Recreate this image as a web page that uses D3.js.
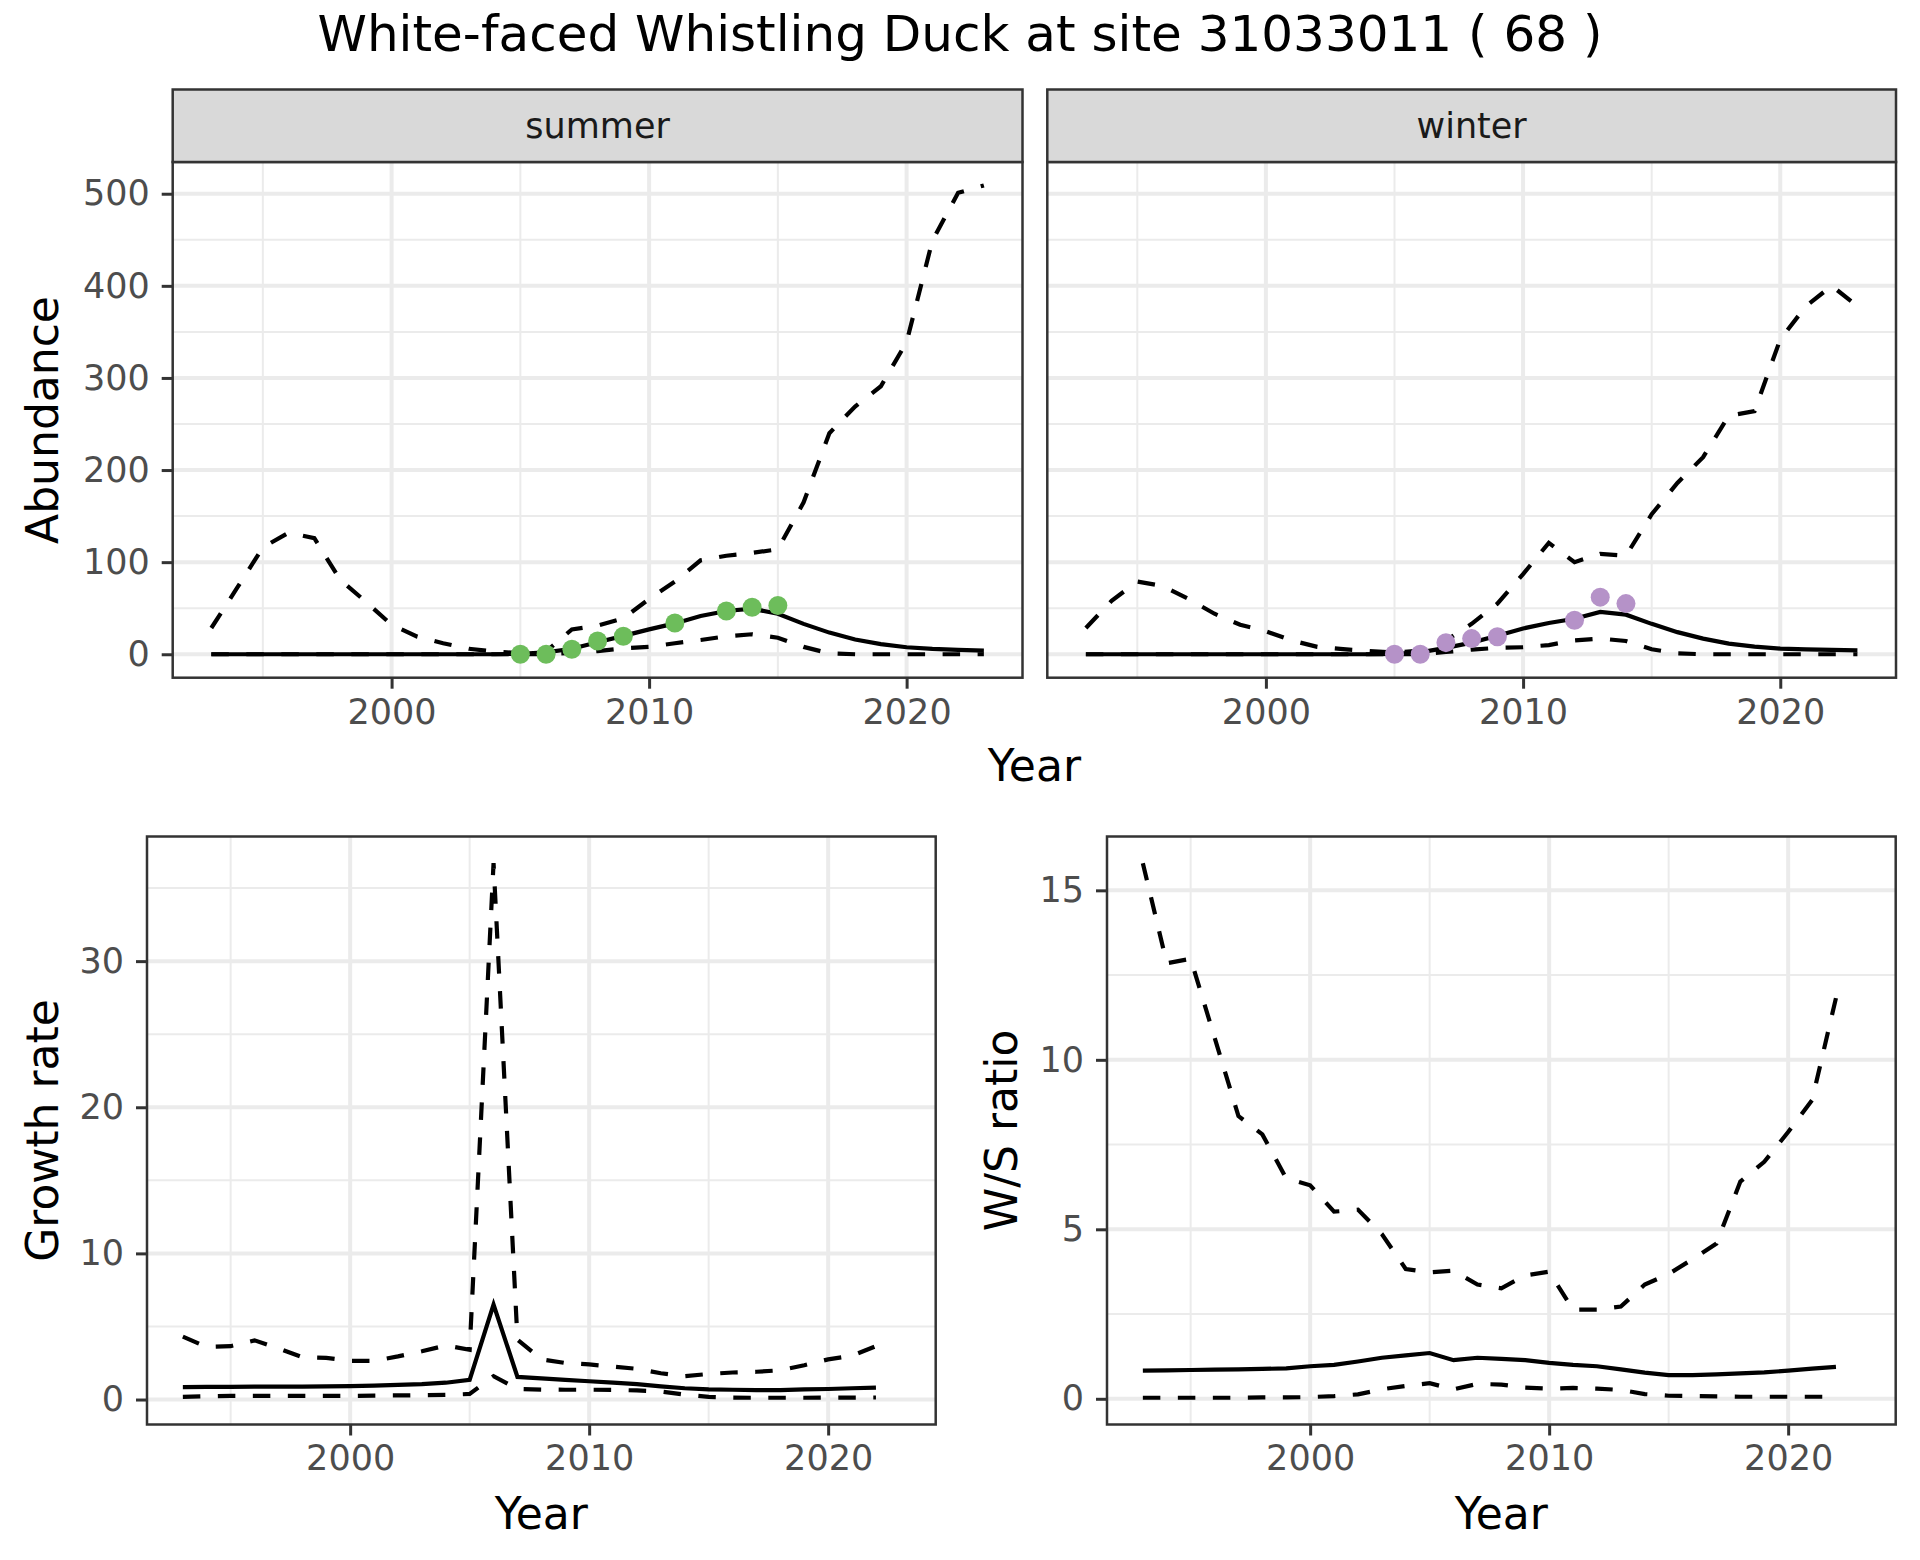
<!DOCTYPE html>
<html>
<head>
<meta charset="utf-8">
<script src="https://cdn.jsdelivr.net/npm/d3@7"></script>
<style>
  body { margin: 0; background: #fff; }
  text { font-family: "DejaVu Sans", sans-serif; }
</style>
</head>
<body>
<div id="chart"></div>
<script>

// ---- DATA -----

var abYears = d3.range(1993, 2024);
var rateYears = d3.range(1993, 2023);

// summer abundance: upper, mean, lower
var summerHi = [28.5, 72, 116, 132, 126, 81, 57, 32, 19, 12, 6, 3, 1, 3, 27, 31, 39, 60, 79, 102, 107, 110, 114, 165, 240, 269, 291, 339, 449, 501, 509];
var summerMu = [0, 0, 0, 0, 0, 0, 0, 0, 0, 0, 0, 0, 0.5, 2, 6, 13, 20, 27, 33.5, 41.5, 47, 49.5, 44, 33, 23.5, 16, 11, 7.6, 5.8, 4.7, 4];
var summerLo = [0, 0, 0, 0, 0, 0, 0, 0, 0, 0, 0, 0, 0, 0, 1.5, 3.5, 6.5, 8, 12, 15.5, 19.5, 21.7, 18, 8, 1, 0, 0, 0, 0, 0, 0];
var summerObsYear = [2005, 2006, 2007, 2008, 2009, 2011, 2013, 2014, 2015];
var summerObs = [0, 0, 5.4, 14.4, 19.5, 34, 47, 51, 53];

// winter abundance: upper, mean, lower
var winterHi = [28.5, 58, 79, 74, 60, 44, 32, 25, 15, 8, 5.5, 3.6, 1.8, 4, 15, 33, 55, 87, 121, 100, 109, 107, 152, 186, 214, 259, 264, 342, 378, 400, 378];
var winterMu = [0, 0, 0, 0, 0, 0, 0, 0, 0, 0, 0, 0, 0.5, 2, 7, 12.6, 20, 28, 34, 38.6, 45.9, 43, 33, 24, 17, 11.6, 8.3, 6.1, 5.4, 4.7, 4.3];
var winterLo = [0, 0, 0, 0, 0, 0, 0, 0, 0, 0, 0, 0, 0, 0, 2.5, 5, 7, 7.6, 10, 15, 17, 14.4, 5.4, 1, 0, 0, 0, 0, 0, 0, 0];
var winterObsYear = [2005, 2006, 2007, 2008, 2009, 2012, 2013, 2014];
var winterObs = [0, 0, 12.6, 17, 19, 37, 62, 55];

// growth rate
var growthHi = [4.3, 3.6, 3.65, 4.05, 3.5, 2.9, 2.85, 2.65, 2.65, 2.95, 3.3, 3.7, 3.4, 36.7, 4.1, 2.75, 2.5, 2.4, 2.25, 2.1, 1.8, 1.6, 1.75, 1.85, 1.9, 2.0, 2.35, 2.75, 3.0, 3.65];
var growthMu = [0.85, 0.86, 0.87, 0.88, 0.88, 0.88, 0.9, 0.92, 0.95, 1.0, 1.05, 1.15, 1.35, 6.5, 1.55, 1.45, 1.35, 1.25, 1.15, 1.05, 0.9, 0.77, 0.7, 0.67, 0.65, 0.65, 0.7, 0.72, 0.77, 0.82];
var growthLo = [0.18, 0.22, 0.25, 0.25, 0.25, 0.25, 0.25, 0.25, 0.27, 0.28, 0.3, 0.32, 0.38, 1.6, 0.72, 0.68, 0.67, 0.67, 0.66, 0.62, 0.55, 0.33, 0.18, 0.13, 0.12, 0.12, 0.12, 0.13, 0.13, 0.14];

// winter / summer ratio
var ratioHi = [15.8, 12.85, 12.98, 10.66, 8.34, 7.8, 6.5, 6.3, 5.52, 5.58, 4.86, 3.83, 3.73, 3.78, 3.37, 3.26, 3.64, 3.75, 2.63, 2.63, 2.72, 3.37, 3.68, 4.12, 4.58, 6.41, 6.99, 7.87, 8.81, 11.82];
var ratioMu = [0.83, 0.84, 0.85, 0.86, 0.87, 0.88, 0.9, 0.96, 1.0, 1.1, 1.21, 1.28, 1.35, 1.14, 1.21, 1.18, 1.14, 1.06, 1.0, 0.96, 0.87, 0.77, 0.7, 0.7, 0.72, 0.75, 0.78, 0.83, 0.89, 0.94];
var ratioLo = [0.03, 0.03, 0.03, 0.03, 0.03, 0.04, 0.04, 0.05, 0.08, 0.13, 0.28, 0.38, 0.46, 0.28, 0.44, 0.42, 0.33, 0.3, 0.32, 0.3, 0.26, 0.14, 0.09, 0.08, 0.07, 0.06, 0.06, 0.06, 0.06, 0.06];

var xTicks = [2000, 2010, 2020],
    xMinor = [1995, 2005, 2015],
    abTicks = [0, 100, 200, 300, 400, 500],
    abMinor = [50, 150, 250, 350, 450],
    growthTicks = [0, 10, 20, 30],
    growthMinor = [5, 15, 25, 35],
    ratioTicks = [0, 5, 10, 15],
    ratioMinor = [2.5, 7.5, 12.5];

// ---- SETUP -----

var width = 1920,
    height = 1560,
    tickFont = 35,
    titleFont = 44,
    dash = "17.5,17.5",
    svg = d3.select("#chart")
            .append("svg")
            .attr("width", width)
            .attr("height", height);

var zip = function(xs, ys){
    return xs.map(function(x, i){ return {x: x, y: ys[i]}; });
};

// padded domain like ggplot (5% each side)
var padded = function(arrays){
    var ext = d3.extent(d3.merge(arrays)),
        pad = (ext[1] - ext[0]) * 0.05;
    return [ext[0] - pad, ext[1] + pad];
};

var xDomain = padded([abYears]);
var abDomain = padded([summerHi, summerMu, summerLo, summerObs, winterHi, winterMu, winterLo, winterObs]);

var clipId = 0;

var drawPanel = function(p){

    var xScale = d3.scaleLinear().domain(xDomain).range([p.x0, p.x1]),
        yScale = d3.scaleLinear().domain(p.yDomain).range([p.y1, p.y0]);

    var g = svg.append("g");

    // grid
    g.selectAll(".minY").data(p.yMinor).enter().append("line")
        .attr("x1", p.x0).attr("x2", p.x1)
        .attr("y1", yScale).attr("y2", yScale)
        .attr("stroke", "#ebebeb").attr("stroke-width", 2);
    g.selectAll(".minX").data(xMinor).enter().append("line")
        .attr("y1", p.y0).attr("y2", p.y1)
        .attr("x1", xScale).attr("x2", xScale)
        .attr("stroke", "#ebebeb").attr("stroke-width", 2);
    g.selectAll(".majY").data(p.yTicks).enter().append("line")
        .attr("x1", p.x0).attr("x2", p.x1)
        .attr("y1", yScale).attr("y2", yScale)
        .attr("stroke", "#ebebeb").attr("stroke-width", 4);
    g.selectAll(".majX").data(xTicks).enter().append("line")
        .attr("y1", p.y0).attr("y2", p.y1)
        .attr("x1", xScale).attr("x2", xScale)
        .attr("stroke", "#ebebeb").attr("stroke-width", 4);

    // lines
    clipId += 1;
    svg.append("clipPath").attr("id", "clip" + clipId)
        .append("rect")
        .attr("x", p.x0).attr("y", p.y0)
        .attr("width", p.x1 - p.x0).attr("height", p.y1 - p.y0);

    var line = d3.line()
                 .x(function(d){ return xScale(d.x); })
                 .y(function(d){ return yScale(d.y); });

    var lines = g.append("g").attr("clip-path", "url(#clip" + clipId + ")");

    p.series.forEach(function(s){
        lines.append("path")
            .datum(zip(p.years, s.values))
            .attr("d", line)
            .attr("fill", "none")
            .attr("stroke", "black")
            .attr("stroke-width", 4.2)
            .attr("stroke-dasharray", s.dashed ? dash : null);
    });

    if (p.points) {
        lines.selectAll("circle")
            .data(zip(p.points.years, p.points.values))
            .enter()
            .append("circle")
                .attr("cx", function(d){ return xScale(d.x); })
                .attr("cy", function(d){ return yScale(d.y); })
                .attr("r", 9.5)
                .attr("fill", p.points.color);
    }

    // border
    g.append("rect")
        .attr("x", p.x0).attr("y", p.y0)
        .attr("width", p.x1 - p.x0).attr("height", p.y1 - p.y0)
        .attr("fill", "none")
        .attr("stroke", "#333333")
        .attr("stroke-width", 2.5);

    // x axis
    var xAxis = d3.axisBottom(xScale)
                  .tickValues(xTicks)
                  .tickFormat(d3.format("d"))
                  .tickSize(11)
                  .tickPadding(10);

    var gx = g.append("g")
        .attr("transform", "translate(0," + p.y1 + ")")
        .call(xAxis);
    gx.select(".domain").remove();
    gx.selectAll(".tick line").attr("stroke", "#333333").attr("stroke-width", 3);
    gx.selectAll(".tick text")
        .attr("font-size", tickFont)
        .attr("font-family", "DejaVu Sans")
        .attr("fill", "#4d4d4d");

    // y axis
    if (p.showY) {
        var yAxis = d3.axisLeft(yScale)
                      .tickValues(p.yTicks)
                      .tickSize(11)
                      .tickPadding(12);
        var gy = g.append("g")
            .attr("transform", "translate(" + p.x0 + ",0)")
            .call(yAxis);
        gy.select(".domain").remove();
        gy.selectAll(".tick line").attr("stroke", "#333333").attr("stroke-width", 3);
        gy.selectAll(".tick text")
            .attr("font-size", tickFont)
            .attr("font-family", "DejaVu Sans")
            .attr("fill", "#4d4d4d");
    }

    // facet strip
    if (p.strip) {
        g.append("rect")
            .attr("x", p.x0).attr("y", 89.5)
            .attr("width", p.x1 - p.x0).attr("height", p.y0 - 89.5)
            .attr("fill", "#d9d9d9")
            .attr("stroke", "#333333")
            .attr("stroke-width", 2.5);
        g.append("text")
            .attr("x", (p.x0 + p.x1) / 2)
            .attr("y", (89.5 + p.y0) / 2)
            .attr("dy", "0.36em")
            .attr("text-anchor", "middle")
            .attr("font-size", tickFont)
            .attr("fill", "#1a1a1a")
            .text(p.strip);
    }
};

// ---- TOP ROW: ABUNDANCE -----

drawPanel({
    x0: 172.7, x1: 1022.5, y0: 162, y1: 677.7,
    yDomain: abDomain, yTicks: abTicks, yMinor: abMinor,
    years: abYears, showY: true, strip: "summer",
    series: [
        {values: summerHi, dashed: true},
        {values: summerMu, dashed: false},
        {values: summerLo, dashed: true}
    ],
    points: {years: summerObsYear, values: summerObs, color: "#6dbd5b"}
});

drawPanel({
    x0: 1047.3, x1: 1896, y0: 162, y1: 677.7,
    yDomain: abDomain, yTicks: abTicks, yMinor: abMinor,
    years: abYears, showY: false, strip: "winter",
    series: [
        {values: winterHi, dashed: true},
        {values: winterMu, dashed: false},
        {values: winterLo, dashed: true}
    ],
    points: {years: winterObsYear, values: winterObs, color: "#b592c8"}
});

// ---- BOTTOM ROW: GROWTH AND RATIO -----

drawPanel({
    x0: 147, x1: 935.7, y0: 836.5, y1: 1424.5,
    yDomain: padded([growthHi, growthMu, growthLo]), yTicks: growthTicks, yMinor: growthMinor,
    years: rateYears, showY: true,
    series: [
        {values: growthHi, dashed: true},
        {values: growthMu, dashed: false},
        {values: growthLo, dashed: true}
    ]
});

drawPanel({
    x0: 1107, x1: 1895.7, y0: 836.5, y1: 1424.5,
    yDomain: padded([ratioHi, ratioMu, ratioLo]), yTicks: ratioTicks, yMinor: ratioMinor,
    years: rateYears, showY: true,
    series: [
        {values: ratioHi, dashed: true},
        {values: ratioMu, dashed: false},
        {values: ratioLo, dashed: true}
    ]
});

// ---- TITLES -----

svg.append("text")
    .attr("x", 960).attr("y", 51)
    .attr("text-anchor", "middle")
    .attr("font-size", 50)
    .text("White-faced Whistling Duck at site 31033011 ( 68 )");

var xTitles = [[1034.4, 781], [541.3, 1528.5], [1501.3, 1528.5]];
xTitles.forEach(function(t){
    svg.append("text")
        .attr("x", t[0]).attr("y", t[1])
        .attr("text-anchor", "middle")
        .attr("font-size", titleFont)
        .text("Year");
});

var yTitles = [["Abundance", 58, 420], ["Growth rate", 58, 1130.5], ["W/S ratio", 1017, 1130.5]];
yTitles.forEach(function(t){
    svg.append("text")
        .attr("transform", "translate(" + t[1] + "," + t[2] + ") rotate(-90)")
        .attr("text-anchor", "middle")
        .attr("font-size", titleFont)
        .text(t[0]);
});

</script>
</body>
</html>
